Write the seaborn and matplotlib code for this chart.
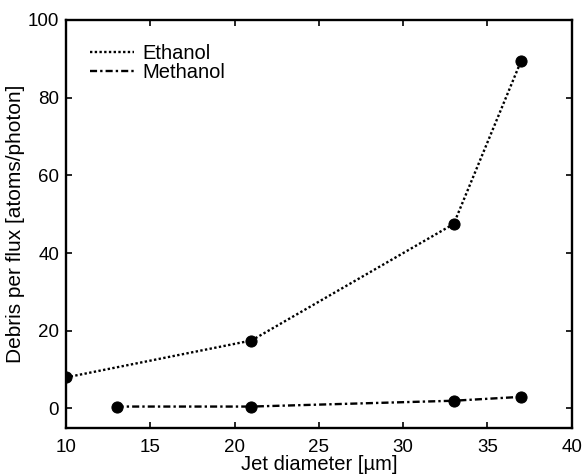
import pandas as pd
import numpy as np
import matplotlib
matplotlib.use('Agg')
import matplotlib.pyplot as plt
import seaborn as sns

# datos
ethanol_d = [10, 21, 33, 37]
ethanol_debris = [8.0, 17.5, 47.5, 89.5]
methanol_d = [13, 21, 33, 37]
methanol_debris = [0.5, 0.5, 2.0, 3.0]

df = pd.concat([
    pd.DataFrame({'d': ethanol_d, 'debris': ethanol_debris, 'liq': 'Ethanol'}),
    pd.DataFrame({'d': methanol_d, 'debris': methanol_debris, 'liq': 'Methanol'}),
])

sns.set_theme(style='ticks')
plt.rcParams['font.family'] = ['Liberation Sans', 'DejaVu Sans']
plt.rcParams['text.color'] = 'black'
plt.rcParams['axes.labelcolor'] = 'black'

fig = plt.figure(figsize=(5.84, 4.76), dpi=100)
ax = fig.add_axes([0.113, 0.101, 0.866, 0.857])

# punteado y raya-punto como en la figura original
estilos = {'Ethanol': (0, (1, 1)), 'Methanol': (0, (3, 1.3, 1, 1.3))}
for liq, sub in df.groupby('liq'):
    sns.lineplot(data=sub, x='d', y='debris', ax=ax, color='black',
                 linestyle=estilos[liq], linewidth=1.7, marker='o',
                 markersize=8, markeredgecolor='black', label=liq)

ax.set_xlim(10, 40)
ax.set_ylim(-5, 100)
ax.set_xticks([10, 15, 20, 25, 30, 35, 40])
ax.set_yticks([0, 20, 40, 60, 80, 100])
ax.tick_params(direction='in', top=True, right=True, labelsize=13.5, length=4,
               width=1.2, colors='black')
ax.tick_params(axis='x', pad=8)
ax.tick_params(axis='y', pad=5)
for s in ax.spines.values():
    s.set_linewidth(1.7)
    s.set_color('black')

ax.set_xlabel('Jet diameter [µm]', fontsize=14.5, labelpad=-1)
ax.set_ylabel('Debris per flux [atoms/photon]', fontsize=15, labelpad=2)

leg = ax.legend(loc='upper left', frameon=False, fontsize=14.5,
                handlelength=2.2, handletextpad=0.4, borderpad=0.7,
                labelspacing=0.0)
for h in leg.get_lines():
    h.set_marker('')

fig.savefig('out.png', dpi=100)
